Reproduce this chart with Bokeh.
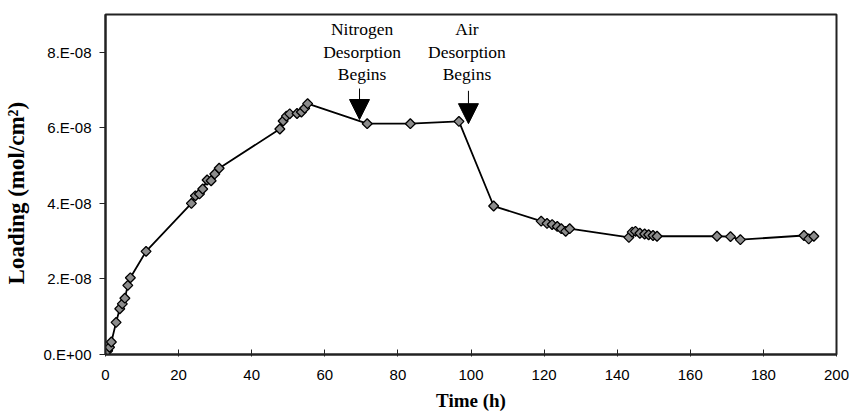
import math
from bokeh.plotting import figure
from bokeh.models import FixedTicker, CustomJSTickFormatter, Arrow, NormalHead, ColumnDataSource
from bokeh.core.properties import value
from bokeh.embed import file_html
from bokeh.resources import INLINE

# ---- data (loading in units of 1e-8 mol/cm^2) ----
time_h = [0, 0.6, 1.1, 1.6, 2.9, 3.9, 4.6, 5.3, 6.1, 6.8, 11.1,
          23.5, 24.6, 25.7, 26.6, 27.8, 28.9, 29.9, 31.1,
          47.7, 48.6, 49.5, 50.4, 52.4, 53.6, 54.5, 55.3,
          71.6, 83.4, 96.7, 106.2,
          119.2, 120.8, 122.2, 123.6, 124.7, 125.9, 127.0,
          143.2, 144.1, 145.0, 146.2, 147.5, 148.6, 149.8, 150.9,
          167.3, 171.0, 173.7, 191.1, 192.4, 193.8]
loading_e8 = [0, 0.10, 0.19, 0.33, 0.85, 1.21, 1.34, 1.49, 1.83, 2.03, 2.73,
              4.00, 4.20, 4.25, 4.38, 4.62, 4.60, 4.78, 4.93,
              5.97, 6.18, 6.31, 6.37, 6.38, 6.42, 6.52, 6.64,
              6.11, 6.11, 6.17, 3.93,
              3.53, 3.47, 3.44, 3.39, 3.33, 3.26, 3.33,
              3.10, 3.24, 3.26, 3.21, 3.19, 3.17, 3.15, 3.13,
              3.13, 3.12, 3.04, 3.15, 3.06, 3.13]
loading = [v * 1e-8 for v in loading_e8]

x_ticks = [0, 20, 40, 60, 80, 100, 120, 140, 160, 180, 200]
y_ticks = [0, 2e-8, 4e-8, 6e-8, 8e-8]

# annotations
ann_lines_nitrogen = ["Nitrogen", "Desorption", "Begins"]
ann_lines_air = ["Air", "Desorption", "Begins"]
ann_x_nitrogen = 70.2
ann_x_air = 98.9
ann_line_y = [8.62e-8, 8.02e-8, 7.43e-8]
arrow_nitrogen = (69.5, 7.04e-8, 6.22e-8)
arrow_air = (99.3, 6.98e-8, 6.11e-8)

p = figure(width=849, height=416, output_backend="svg", toolbar_location=None,
           x_range=(0, 200), y_range=(0, 9e-8),
           min_border_left=105, min_border_right=13, min_border_top=14, min_border_bottom=62)
p.background_fill_color = "white"
p.border_fill_color = "white"
p.xgrid.visible = False
p.ygrid.visible = False
p.outline_line_color = "#222222"
p.outline_line_width = 2

p.xaxis.ticker = FixedTicker(ticks=x_ticks)
p.yaxis.ticker = FixedTicker(ticks=y_ticks)
p.yaxis.formatter = CustomJSTickFormatter(code="""
const s = tick.toExponential(0);
const parts = s.split('e');
const sign = parts[1][0];
const d = parts[1].slice(1).padStart(2, '0');
return parts[0] + '.E' + sign + d;
""")
p.xaxis.minor_tick_line_color = None
p.yaxis.minor_tick_line_color = None
for ax in (p.xaxis, p.yaxis):
    ax.axis_line_color = "#222222"
    ax.axis_line_width = 2
    ax.major_tick_line_color = "#222222"
    ax.major_tick_line_width = 1
    ax.major_label_text_font = "Liberation Sans"
    ax.major_label_text_font_size = "15px"
    ax.major_label_text_color = "black"
    ax.axis_label_text_font = "Liberation Serif"
    ax.axis_label_text_font_style = "bold"
    ax.axis_label_text_color = "black"

p.xaxis.major_tick_in = 5
p.xaxis.major_tick_out = 2
p.xaxis.major_label_standoff = 13
p.xaxis.axis_label = "Time (h)"
p.xaxis.axis_label_text_font_size = "19px"
p.xaxis.axis_label_standoff = 7

p.yaxis.major_tick_in = 0
p.yaxis.major_tick_out = 6
p.yaxis.major_label_standoff = 8
p.yaxis.axis_label = "Loading (mol/cm\u00b2)\u00a0\u00a0\u00a0"
p.yaxis.axis_label_text_font_size = "23px"
p.yaxis.axis_label_standoff = 12

src = ColumnDataSource(dict(t=time_h, y=loading))
p.line("t", "y", source=src, line_color="black", line_width=1.8)
p.scatter("t", "y", source=src, marker="square", size=7, angle=math.pi / 4,
          fill_color="#8c8c8c", line_color="black", line_width=1.3)

p.text(x=[ann_x_nitrogen] * 3, y=ann_line_y, text=ann_lines_nitrogen,
       text_font=value("Liberation Serif"), text_font_size="17.5px",
       text_align="center", text_baseline="middle", text_color="black")
p.text(x=[ann_x_air] * 3, y=ann_line_y, text=ann_lines_air,
       text_font=value("Liberation Serif"), text_font_size="17.5px",
       text_align="center", text_baseline="middle", text_color="black")

for ax_x, y0, y1 in (arrow_nitrogen, arrow_air):
    p.add_layout(Arrow(x_start=ax_x, y_start=y0, x_end=ax_x, y_end=y1,
                       line_color="black", line_width=1,
                       end=NormalHead(size=20, fill_color="black", line_color="black")))

open("out.html", "w").write(file_html(p, INLINE))
